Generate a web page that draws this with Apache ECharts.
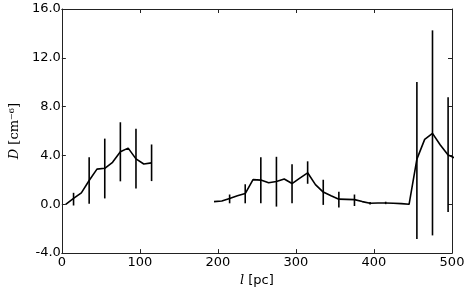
<!DOCTYPE html>
<html>
<head>
<meta charset="utf-8">
<script src="https://cdn.jsdelivr.net/npm/echarts@6/dist/echarts.min.js"></script>
<style>
  html, body { margin: 0; padding: 0; background: #fff; }
  #chart { width: 473px; height: 292px; }
</style>
</head>
<body>
<div id="chart"></div>
<script>
// first stretch of the profile
const seg1X = [5, 15, 25, 35, 45, 55, 65, 75, 85, 95, 105, 115];
const seg1D = [0.0, 0.48, 0.94, 1.95, 2.88, 2.95, 3.44, 4.3, 4.6, 3.72, 3.3, 3.39];

// second stretch (last point sits past the frame and gets clipped)
const seg2X = [195, 205, 215, 225, 235, 245, 255, 265, 275, 285, 295, 305, 315, 325, 335, 345,
  355, 365, 375, 385, 395, 405, 415, 425, 435, 445, 455, 465, 475, 485, 495, 505];
const seg2D = [0.22, 0.27, 0.48, 0.70, 0.88, 2.02, 1.98, 1.77, 1.87, 2.07, 1.70, 2.15, 2.58, 1.61, 1.0, 0.70,
  0.42, 0.40, 0.38, 0.22, 0.08, 0.10, 0.11, 0.08, 0.05, 0.0, 3.7, 5.32, 5.81, 4.86, 4.03, 3.75];

// error bars: position, centre, half-length
const errX = [15, 35, 55, 75, 95, 115, 215, 235, 255, 275, 295, 315, 335, 355, 375, 395, 415, 455, 475, 495];
const errMid = [0.42, 1.95, 2.93, 4.3, 3.74, 3.4, 0.44, 0.86, 1.97, 1.85, 1.68, 2.6, 0.98, 0.38, 0.33, 0.08, 0.11, 3.58, 5.85, 4.06];
const errHalf = [0.52, 1.9, 2.45, 2.42, 2.45, 1.5, 0.36, 0.78, 1.88, 2.04, 1.6, 0.92, 1.03, 0.65, 0.47, 0.1, 0.1, 6.43, 8.4, 4.7];

const xTicks = [0, 100, 200, 300, 400, 500];
const yTicks = [-4, 0, 4, 8, 12, 16];

const chart = echarts.init(document.getElementById('chart'));

const lineData = seg1X.map((x, i) => [x, seg1D[i]])
  .concat([[155, null]])
  .concat(seg2X.map((x, i) => [x, seg2D[i]]));

const errData = errX.map((x, i) => [x, errMid[i] - errHalf[i], errMid[i] + errHalf[i]]);

const tickFont = { color: '#000', fontSize: 13, fontFamily: 'DejaVu Sans' };
const frameLine = { show: true, onZero: false, lineStyle: { color: '#222', width: 1 } };
const innerTick = { show: true, inside: true, length: 4, lineStyle: { color: '#222', width: 1 } };

chart.setOption({
  animation: false,
  backgroundColor: '#fff',
  grid: { left: 49, right: 21, top: 9, bottom: 35 },
  xAxis: [{
    type: 'value',
    position: 'bottom',
    min: xTicks[0],
    max: xTicks[xTicks.length - 1],
    interval: 100,
    axisLine: frameLine,
    axisTick: innerTick,
    splitLine: { show: false },
    axisLabel: Object.assign({ margin: 3 }, tickFont),
    name: '{it|l} [pc]',
    nameLocation: 'middle',
    nameGap: 19,
    nameTextStyle: {
      color: '#000', fontSize: 13, fontFamily: 'DejaVu Sans',
      rich: { it: { fontFamily: 'DejaVu Serif', fontStyle: 'italic', fontSize: 13, color: '#000' } }
    }
  }, {
    type: 'value',
    position: 'top',
    min: 0, max: 500, interval: 100,
    axisLine: frameLine,
    axisTick: innerTick,
    axisLabel: { show: false },
    splitLine: { show: false }
  }],
  yAxis: [{
    type: 'value',
    position: 'left',
    min: yTicks[0],
    max: yTicks[yTicks.length - 1],
    interval: 4,
    axisLine: frameLine,
    axisTick: innerTick,
    splitLine: { show: false },
    axisLabel: Object.assign({ margin: 1, formatter: v => v.toFixed(1) }, tickFont),
    name: '{it|D} [cm⁻⁶]',
    nameLocation: 'middle',
    nameRotate: 90,
    nameGap: 31,
    nameTextStyle: {
      color: '#000', fontSize: 13, fontFamily: 'DejaVu Serif',
      rich: { it: { fontFamily: 'DejaVu Serif', fontStyle: 'italic', fontSize: 13, color: '#000' } }
    }
  }, {
    type: 'value',
    position: 'right',
    min: -4, max: 16, interval: 4,
    axisLine: frameLine,
    axisTick: innerTick,
    axisLabel: { show: false },
    splitLine: { show: false }
  }],
  series: [{
    type: 'line',
    data: lineData,
    showSymbol: false,
    connectNulls: false,
    clip: true,
    lineStyle: { color: '#000', width: 1.6 }
  }, {
    type: 'custom',
    data: errData,
    clip: true,
    renderItem: (params, api) => {
      const lo = api.coord([api.value(0), api.value(1)]);
      const hi = api.coord([api.value(0), api.value(2)]);
      return {
        type: 'line',
        shape: { x1: lo[0], y1: lo[1], x2: hi[0], y2: hi[1] },
        style: { stroke: '#000', lineWidth: 1.6 }
      };
    }
  }]
});
</script>
</body>
</html>
